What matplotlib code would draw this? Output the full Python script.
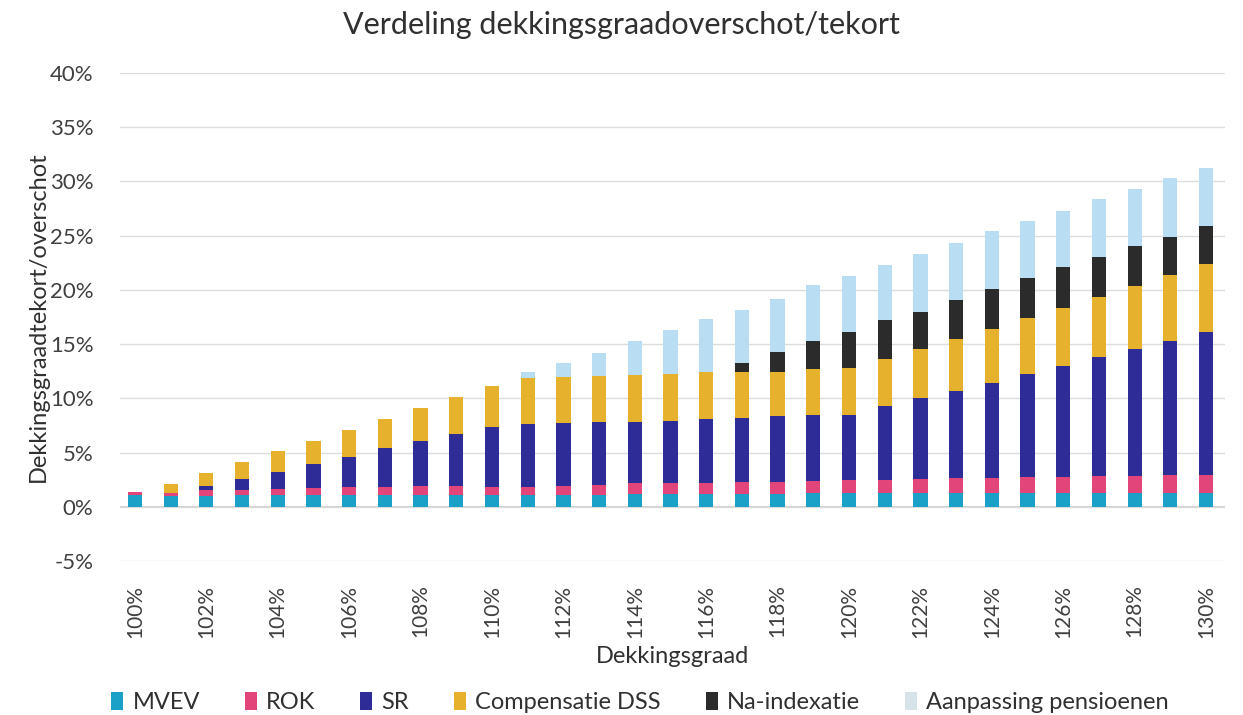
import matplotlib
matplotlib.use("Agg")
import matplotlib.pyplot as plt
import numpy as np
from matplotlib.patches import Patch

plt.rcParams['font.family'] = ['Lato', 'DejaVu Sans']

categories = [f"{v}%" for v in range(100, 131)]
tick_labels = [f"{v}%" for v in range(100, 131, 2)]

# segment heights (percent points)
mvev = [1.1, 1.0, 1.0, 1.05, 1.05, 1.1, 1.1, 1.1, 1.1, 1.1, 1.1, 1.1, 1.1, 1.1, 1.15, 1.15,
        1.2, 1.2, 1.2, 1.25, 1.3, 1.3, 1.3, 1.3, 1.3, 1.3, 1.3, 1.3, 1.3, 1.3, 1.3]
rok = [0.3, 0.25, 0.5, 0.52, 0.55, 0.6, 0.7, 0.7, 0.8, 0.8, 0.7, 0.75, 0.8, 0.9, 1.05, 1.05,
       1.0, 1.05, 1.1, 1.15, 1.2, 1.2, 1.25, 1.35, 1.35, 1.4, 1.45, 1.5, 1.55, 1.6, 1.65]
sr = [0.0, 0.0, 0.4, 1.03, 1.65, 2.2, 2.8, 3.6, 4.15, 4.8, 5.55, 5.75, 5.8, 5.8, 5.65, 5.7,
      5.9, 5.9, 6.1, 6.1, 6.0, 6.8, 7.45, 8.05, 8.8, 9.5, 10.25, 11.0, 11.7, 12.4, 13.2]
dss = [0.0, 0.85, 1.2, 1.5, 1.85, 2.2, 2.5, 2.7, 3.1, 3.4, 3.75, 4.3, 4.25, 4.25, 4.3, 4.3,
       4.35, 4.3, 4.05, 4.2, 4.3, 4.3, 4.5, 4.8, 4.95, 5.25, 5.3, 5.5, 5.85, 6.1, 6.25]
na_index = [0.0, 0.0, 0.0, 0.0, 0.0, 0.0, 0.0, 0.0, 0.0, 0.0, 0.0, 0.0, 0.0, 0.0, 0.0, 0.0,
            0.0, 0.85, 1.8, 2.6, 3.35, 3.6, 3.5, 3.6, 3.65, 3.65, 3.8, 3.7, 3.6, 3.5, 3.5]
aanpassing = [0.0, 0.0, 0.0, 0.0, 0.0, 0.0, 0.0, 0.0, 0.0, 0.0, 0.0, 0.5, 1.35, 2.15, 3.15, 4.1,
              4.85, 4.85, 4.95, 5.15, 5.15, 5.1, 5.3, 5.2, 5.35, 5.25, 5.2, 5.35, 5.3, 5.4, 5.3]

series = [
    ("MVEV", mvev, "#1BA0C8"),
    ("ROK", rok, "#E2457A"),
    ("SR", sr, "#2E2C96"),
    ("Compensatie DSS", dss, "#E6B22E"),
    ("Na-indexatie", na_index, "#2B2B2B"),
    ("Aanpassing pensioenen", aanpassing, "#B9DEF3"),
]

fig = plt.figure(figsize=(12.43, 7.15), dpi=100)
ax = fig.add_axes([0.0965, 0.2154, 0.889, 0.6826])

x = np.arange(len(categories))
bottom = np.zeros(len(categories))
for name, vals, col in series:
    v = np.array(vals)
    ax.bar(x, v, bottom=bottom, width=0.4, color=col, label=name, linewidth=0)
    bottom += v

ax.set_ylim(-5, 40)
ax.set_xlim(-0.42, 30.53)
ax.set_yticks(np.arange(-5, 41, 5))
ax.set_yticklabels([f"{v}%" for v in range(-5, 41, 5)], fontsize=16, color="#404040")
ax.yaxis.grid(True, color="#DCDCDC", linewidth=1)
ax.axhline(0, color="#C8C8C8", linewidth=1.2, zorder=0.5)
ax.set_axisbelow(True)
ax.set_xticks(x[::2])
ax.set_xticklabels(tick_labels, rotation=90, fontsize=15, color="#404040")
ax.tick_params(axis='both', length=0)
ax.tick_params(axis='x', pad=17)
ax.tick_params(axis='y', pad=19)
for s in ax.spines.values():
    s.set_visible(False)

ax.set_ylabel("Dekkingsgraadtekort/overschot", fontsize=17, color="#303030", labelpad=1)
ax.set_xlabel("Dekkingsgraad", fontsize=17, color="#303030", labelpad=6)
fig.suptitle("Verdeling dekkingsgraadoverschot/tekort", fontsize=22, color="#303030", y=0.985)

leg_colors = ["#1BA0C8", "#E2457A", "#2E2C96", "#E6B22E", "#2B2B2B", "#D6E4EA"]
leg_handles = [Patch(facecolor=c, edgecolor='none') for c in leg_colors]
fig.legend(leg_handles, [s[0] for s in series], loc="lower center", ncol=6,
           bbox_to_anchor=(0.515, -0.027), frameon=False, fontsize=17,
           handlelength=0.5, handleheight=0.8, handletextpad=0.4, columnspacing=1.9,
           labelcolor="#303030")

fig.savefig("out.png", dpi=100)
